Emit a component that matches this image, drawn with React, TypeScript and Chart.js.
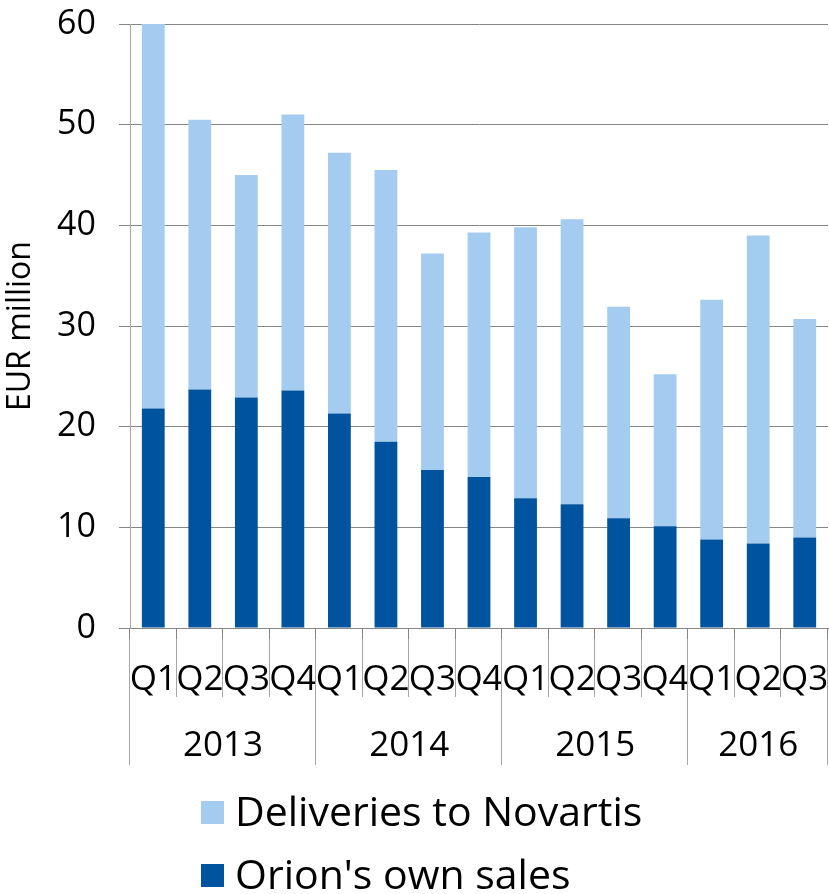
import React, { useEffect, useRef } from 'react';
import { Chart, registerables } from 'chart.js';

Chart.register(...registerables);

// ---- data ----
const quarters = ['Q1', 'Q2', 'Q3', 'Q4', 'Q1', 'Q2', 'Q3', 'Q4', 'Q1', 'Q2', 'Q3', 'Q4', 'Q1', 'Q2', 'Q3'];
const yearOfQuarter = ['2013', '2013', '2013', '2013', '2014', '2014', '2014', '2014', '2015', '2015', '2015', '2015', '2016', '2016', '2016'];
const yearLabels = ['2013', '2014', '2015', '2016'];
const orionOwnSales = [21.8, 23.7, 22.9, 23.6, 21.3, 18.5, 15.7, 15.0, 12.9, 12.3, 10.9, 10.1, 8.8, 8.4, 9.0];
const deliveriesToNovartis = [38.2, 26.8, 22.1, 27.4, 25.9, 27.0, 21.5, 24.3, 26.9, 28.3, 21.0, 15.1, 23.8, 30.6, 21.7];
const seriesNames = ['Deliveries to Novartis', "Orion's own sales"];
const yAxisTitle = 'EUR million';

const LIGHT = '#A4CCF0';
const DARK = '#00549F';
const GRID = '#868686';
const SEP = '#a6a6a6';
const FONT = "'Open Sans', sans-serif";

const groupPlugin = {
  id: 'groupAxis',
  afterDraw(chart: any) {
    const ctx = chart.ctx;
    const xs = chart.scales.x;
    const area = chart.chartArea;
    const n = quarters.length;
    const step = xs.getPixelForValue(1) - xs.getPixelForValue(0);
    const top = area.bottom;
    ctx.save();
    ctx.lineWidth = 1;
    for (let i = 0; i <= n; i++) {
      const px = i < n ? xs.getPixelForValue(i) - step / 2 : xs.getPixelForValue(n - 1) + step / 2;
      const edge = i === 0 || i === n || yearOfQuarter[i] !== yearOfQuarter[i - 1];
      const xx = Math.round(px) - 0.5;
      ctx.strokeStyle = SEP;
      ctx.beginPath();
      ctx.moveTo(xx, top);
      ctx.lineTo(xx, edge ? 765 : 697);
      ctx.stroke();
      ctx.strokeStyle = GRID;
      ctx.beginPath();
      ctx.moveTo(xx, top);
      ctx.lineTo(xx, top + 11);
      ctx.stroke();
    }
    // year labels
    ctx.fillStyle = '#000';
    ctx.font = `35px ${FONT}`;
    ctx.textAlign = 'center';
    ctx.textBaseline = 'alphabetic';
    yearLabels.forEach((y) => {
      const idx = yearOfQuarter.map((v, i) => (v === y ? i : -1)).filter((i) => i >= 0);
      const a = xs.getPixelForValue(idx[0]) - step / 2;
      const b = xs.getPixelForValue(idx[idx.length - 1]) + step / 2;
      ctx.fillText(y, (a + b) / 2, 756);
    });
    // legend
    const items = [
      { label: seriesNames[0], color: chart.data.datasets[1].backgroundColor },
      { label: seriesNames[1], color: chart.data.datasets[0].backgroundColor },
    ];
    ctx.textAlign = 'left';
    ctx.font = `41px ${FONT}`;
    items.forEach((it, k) => {
      const base = 826 + k * 63;
      ctx.fillStyle = it.color;
      ctx.fillRect(201, base - 25, 23, 23);
      ctx.fillStyle = '#000';
      ctx.fillText(it.label, 235, base);
    });
    ctx.restore();
  },
};

export default function App() {
  const ref = useRef<HTMLCanvasElement | null>(null);
  useEffect(() => {
    if (!ref.current) return;
    const chart = new Chart(ref.current, {
      type: 'bar',
      data: {
        labels: quarters,
        datasets: [
          { label: seriesNames[1], data: orionOwnSales, backgroundColor: DARK, categoryPercentage: 1, barPercentage: 0.49 },
          { label: seriesNames[0], data: deliveriesToNovartis, backgroundColor: LIGHT, categoryPercentage: 1, barPercentage: 0.49 },
        ],
      },
      options: {
        responsive: false,
        animation: false,
        devicePixelRatio: 1,
        layout: { padding: { top: 24, right: 1, left: 0, bottom: 0 } },
        plugins: { legend: { display: false }, tooltip: { enabled: false } },
        scales: {
          x: {
            stacked: true,
            grid: { display: false },
            border: { display: true, color: GRID },
            ticks: { color: '#000', font: { family: FONT, size: 35 }, padding: 23, maxRotation: 0, autoSkip: false },
            afterFit: (s: any) => { s.height = 266; s.paddingLeft = 0; s.paddingRight = 0; },
          },
          y: {
            stacked: true,
            min: 0,
            max: 60,
            grid: { color: GRID, lineWidth: 1, tickLength: 11 },
            border: { display: true, color: SEP },
            ticks: { stepSize: 10, color: '#000', font: { family: FONT, size: 34 }, padding: 23 },
            title: { display: true, text: yAxisTitle, color: '#000', font: { family: FONT, size: 32 }, padding: { top: 2, bottom: 0 } },
            afterFit: (s: any) => { s.width = 130; s.paddingTop = 0; s.paddingBottom = 0; },
          },
        },
      },
      plugins: [groupPlugin],
    });
    return () => chart.destroy();
  }, []);
  return (
    <div style={{ position: 'fixed', left: 0, top: 0, width: 829, height: 894, background: '#fff' }}>
      <canvas ref={ref} width={829} height={894} />
    </div>
  );
}
